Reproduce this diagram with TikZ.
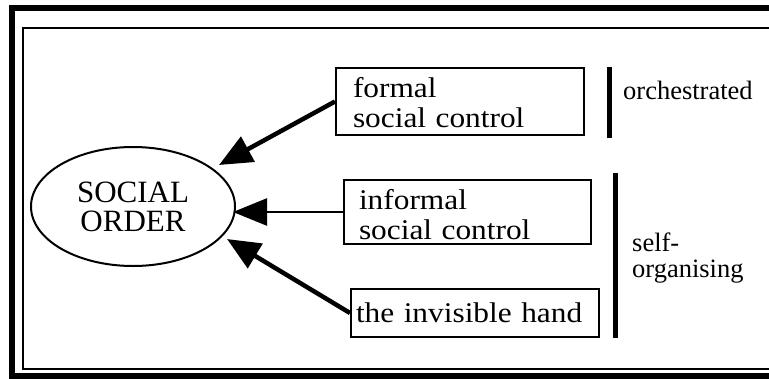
\documentclass[tikz,border=0pt]{standalone}
\usepackage{fontspec}
\setmainfont{Liberation Serif}
\newfontfamily\boxfont[FakeStretch=1.1]{Liberation Serif}
\usetikzlibrary{arrows.meta,shapes.geometric}
\tikzset{
  frameouter/.style={line width=5.5pt},
  frameinner/.style={line width=2pt},
  ctrlbox/.style={draw, line width=2pt, rectangle, inner ysep=0pt, anchor=base west, align=left, font=\boxfont\fontsize{28.5}{30}\selectfont},
  orderell/.style={draw, ellipse, line width=2pt, minimum width=204pt, minimum height=119pt, inner sep=0pt, align=center, font=\fontsize{31}{29}\selectfont},
  bigarrow/.style={-{Triangle[length=33pt,width=28pt]}, line width=4.5pt},
  smallarrow/.style={-{Triangle[length=34pt,width=27pt]}, line width=2.5pt},
  groupbar/.style={line width=5pt},
  sidelabel/.style={anchor=base west, align=left, inner sep=0pt, text width=140pt, font=\fontsize{26.5}{26}\selectfont},
}
\begin{document}
\begin{tikzpicture}[x=1pt,y=-1pt]
\useasboundingbox (0,0) rectangle (769,378);
\clip (0,0) rectangle (769,378);
\draw[frameouter] (800,8) -- (12,8) -- (12,376) -- (800,376);
\draw[frameinner] (800,28) -- (23,28) -- (23,369) -- (800,369);
\node[orderell] (o) at (133,206.5) {SOCIAL\\ORDER};
\node[ctrlbox, inner xsep=17pt, text width=214pt, text height=29pt, text depth=38pt] (f) at (335,97) {formal\\social control};
\node[ctrlbox, inner xsep=15pt, text width=217pt, text height=29pt, text depth=35pt] (i) at (343,209) {informal\\social control};
\node[ctrlbox, inner xsep=5pt, text width=238pt, text height=33pt, text depth=15pt] (h) at (350,322) {the invisible hand};
\coordinate (t1) at (219,165);
\coordinate (t2) at (233,212);
\coordinate (t3) at (227,239);
\draw[bigarrow] (f.west) -- (t1);
\draw[smallarrow] (i.west) -- (t2);
\draw[bigarrow] (h.west) -- (t3);
\coordinate (b1top) at (609.5,67);
\coordinate (b1bot) at (609.5,138);
\coordinate (b2top) at (615,173);
\coordinate (b2bot) at (615,338);
\draw[groupbar] (b1top) -- (b1bot);
\draw[groupbar] (b2top) -- (b2bot);
\node[sidelabel] (orc) at (623,99) {orchestrated};
\node[sidelabel] (selforg) at (632,251) {self-\\organising};
\end{tikzpicture}
\end{document}
